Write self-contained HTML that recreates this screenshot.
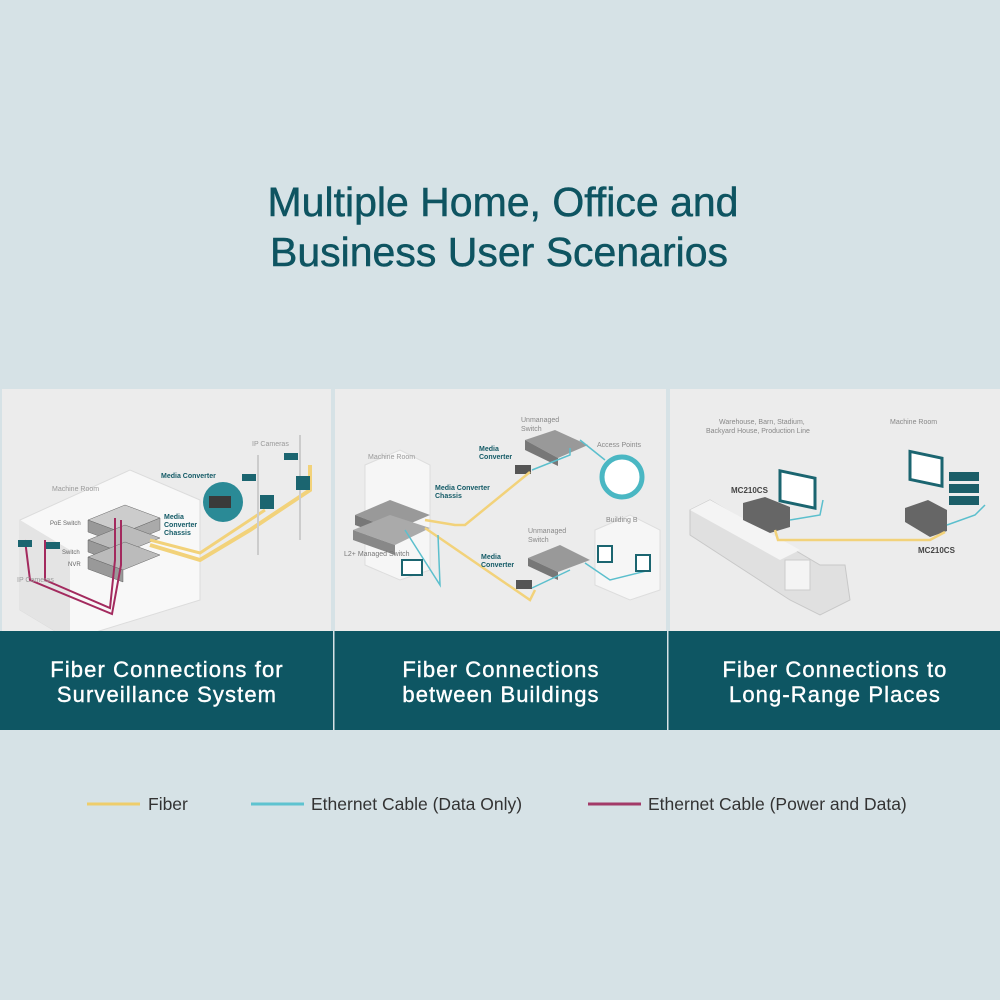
<!DOCTYPE html>
<html><head><meta charset="utf-8"><style>
html,body{margin:0;padding:0;background:#d6e2e6;}
svg{display:block}
</style></head><body>
<svg width="1000" height="1000" viewBox="0 0 1000 1000" xmlns="http://www.w3.org/2000/svg" font-family="Liberation Sans, sans-serif">
<rect width="1000" height="1000" fill="#d6e2e6"/>
<text x="503" y="216" text-anchor="middle" font-size="41" fill="#0e5461" stroke="#0e5461" stroke-width="0.5">Multiple Home, Office and</text>
<text x="499" y="266" text-anchor="middle" font-size="41" fill="#0e5461" stroke="#0e5461" stroke-width="0.5">Business User Scenarios</text>

<!-- panels -->
<rect x="2" y="389" width="329" height="242" fill="#ececec"/>
<rect x="335" y="389" width="331" height="242" fill="#ececec"/>
<rect x="670" y="389" width="330" height="242" fill="#ececec"/>

<!-- Panel 1 -->
<g>
<polygon points="20,520 130,470 200,500 200,600 70,640 20,610" fill="#f8f8f8" stroke="#dcdcdc"/>
<polygon points="20,520 20,610 70,640 70,550" fill="#e4e4e4"/>
<g fill="#888" stroke="#666" stroke-width="0.5">
<polygon points="88,520 125,505 160,518 123,533" fill="#ccc"/>
<polygon points="88,520 123,533 123,545 88,532" fill="#999"/>
<polygon points="123,533 160,518 160,530 123,545" fill="#aaa"/>
<polygon points="88,540 125,525 160,538 123,553" fill="#bbb"/>
<polygon points="88,540 123,553 123,565 88,552" fill="#999"/>
<polygon points="88,557 125,542 160,555 123,570" fill="#bbb"/>
<polygon points="88,557 123,570 123,582 88,569" fill="#999"/>
</g>
<polyline points="115,518 115,560 110,608 45,580 45,540" fill="none" stroke="#a32a5e" stroke-width="2"/>
<polyline points="121,520 121,565 112,614 30,580 25,540" fill="none" stroke="#a32a5e" stroke-width="2"/>
<polyline points="150,545 200,560 250,530 310,490 310,465" fill="none" stroke="#f2d27a" stroke-width="4"/>
<polyline points="150,540 200,553 265,510" fill="none" stroke="#f2d27a" stroke-width="3"/>
<line x1="258" y1="455" x2="258" y2="555" stroke="#ccc" stroke-width="2"/>
<line x1="300" y1="435" x2="300" y2="540" stroke="#ccc" stroke-width="2"/>
<rect x="260" y="495" width="14" height="14" fill="#1b6570"/>
<rect x="296" y="476" width="14" height="14" fill="#1b6570"/>
<rect x="242" y="474" width="14" height="7" fill="#1b6570"/>
<rect x="284" y="453" width="14" height="7" fill="#1b6570"/>
<rect x="18" y="540" width="14" height="7" fill="#1b6570"/>
<rect x="46" y="542" width="14" height="7" fill="#1b6570"/>
<circle cx="223" cy="502" r="20" fill="#2a8a96"/>
<rect x="209" y="496" width="22" height="12" fill="#3a3a3a"/>
<text x="52" y="491" font-size="7" fill="#999">Machine Room</text>
<text x="50" y="525" font-size="6" fill="#666">PoE Switch</text>
<text x="62" y="554" font-size="6" fill="#666">Switch</text>
<text x="68" y="566" font-size="6" fill="#666">NVR</text>
<text x="17" y="582" font-size="7" fill="#999">IP Cameras</text>
<text x="252" y="446" font-size="7" fill="#999">IP Cameras</text>
<text x="161" y="478" font-size="7" font-weight="bold" fill="#135a66">Media Converter</text>
<text x="164" y="519" font-size="7" font-weight="bold" fill="#135a66">Media</text>
<text x="164" y="527" font-size="7" font-weight="bold" fill="#135a66">Converter</text>
<text x="164" y="535" font-size="7" font-weight="bold" fill="#135a66">Chassis</text>
</g>

<!-- Panel 2 -->
<g>
<polygon points="365,465 400,450 430,465 430,570 400,580 365,565" fill="#f6f6f6" stroke="#ddd"/>
<polygon points="595,530 630,515 660,530 660,590 630,600 595,585" fill="#f6f6f6" stroke="#ddd"/>
<polygon points="355,515 390,500 430,515 395,530" fill="#999"/>
<polygon points="355,515 395,530 395,540 355,525" fill="#777"/>
<polygon points="353,530 390,515 430,528 395,545" fill="#aaa"/>
<polygon points="353,530 395,545 395,555 353,540" fill="#888"/>
<polygon points="525,440 555,430 588,445 558,458" fill="#999"/>
<polygon points="525,440 558,458 558,466 525,450" fill="#777"/>
<polygon points="528,558 560,545 590,560 558,572" fill="#999"/>
<polygon points="528,558 558,572 558,580 528,566" fill="#777"/>
<rect x="515" y="465" width="16" height="9" fill="#555"/>
<rect x="516" y="580" width="16" height="9" fill="#555"/>
<polyline points="425,520 455,525 465,525 530,472" fill="none" stroke="#f2d27a" stroke-width="2.5"/>
<polyline points="425,528 530,600 535,590" fill="none" stroke="#f2d27a" stroke-width="2.5"/>
<polyline points="532,470 570,455 570,448" fill="none" stroke="#5bbfcd" stroke-width="1.5"/>
<polyline points="580,440 605,460" fill="none" stroke="#5bbfcd" stroke-width="1.5"/>
<polyline points="532,588 570,570" fill="none" stroke="#5bbfcd" stroke-width="1.5"/>
<polyline points="585,563 610,580 650,570" fill="none" stroke="#5bbfcd" stroke-width="1.5"/>
<polyline points="405,530 440,585 438,535" fill="none" stroke="#5bbfcd" stroke-width="1.5"/>
<circle cx="622" cy="477" r="20" fill="#fff" stroke="#4ab7c3" stroke-width="5"/>
<rect x="402" y="560" width="20" height="15" fill="#fff" stroke="#1b6570" stroke-width="2"/>
<rect x="598" y="546" width="14" height="16" fill="#fff" stroke="#1b6570" stroke-width="2"/>
<rect x="636" y="555" width="14" height="16" fill="#fff" stroke="#1b6570" stroke-width="2"/>
<text x="368" y="459" font-size="7" fill="#999">Machine Room</text>
<text x="344" y="556" font-size="7" fill="#777">L2+ Managed Switch</text>
<text x="521" y="422" font-size="7" fill="#888">Unmanaged</text>
<text x="521" y="431" font-size="7" fill="#888">Switch</text>
<text x="597" y="447" font-size="7" fill="#888">Access Points</text>
<text x="606" y="522" font-size="7" fill="#888">Building B</text>
<text x="528" y="533" font-size="7" fill="#888">Unmanaged</text>
<text x="528" y="542" font-size="7" fill="#888">Switch</text>
<text x="479" y="451" font-size="7" font-weight="bold" fill="#135a66">Media</text>
<text x="479" y="459" font-size="7" font-weight="bold" fill="#135a66">Converter</text>
<text x="435" y="490" font-size="7" font-weight="bold" fill="#135a66">Media Converter</text>
<text x="435" y="498" font-size="7" font-weight="bold" fill="#135a66">Chassis</text>
<text x="481" y="559" font-size="7" font-weight="bold" fill="#135a66">Media</text>
<text x="481" y="567" font-size="7" font-weight="bold" fill="#135a66">Converter</text>
</g>

<!-- Panel 3 -->
<g>
<polygon points="690,510 710,500 820,565 845,565 850,600 820,615 790,600 690,535" fill="#e0e0e0" stroke="#c8c8c8"/>
<polygon points="690,510 710,500 800,550 780,560" fill="#f4f4f4"/>
<rect x="785" y="560" width="25" height="30" fill="#f4f4f4" stroke="#ccc"/>
<rect x="780" y="470" width="35" height="30" fill="#fff" stroke="#1b6570" stroke-width="3" transform="skewY(12) translate(0,-165)"/>
<rect x="910" y="450" width="32" height="28" fill="#fff" stroke="#1b6570" stroke-width="3" transform="skewY(12) translate(0,-192)"/>
<rect x="949" y="472" width="30" height="9" fill="#1b5e68"/>
<rect x="949" y="484" width="30" height="9" fill="#1b5e68"/>
<rect x="949" y="496" width="30" height="9" fill="#1b5e68"/>
<polygon points="743,503 765,497 790,507 790,527 770,533 743,520" fill="#666"/>
<polygon points="905,508 928,500 947,510 947,531 930,537 905,522" fill="#666"/>
<polyline points="775,530 778,540 930,540 945,532" fill="none" stroke="#f2d27a" stroke-width="2.5"/>
<polyline points="790,520 820,515 823,500" fill="none" stroke="#5bbfcd" stroke-width="1.5"/>
<polyline points="947,525 975,515 985,505" fill="none" stroke="#5bbfcd" stroke-width="1.5"/>
<text x="719" y="424" font-size="7" fill="#888">Warehouse, Barn, Stadium,</text>
<text x="706" y="433" font-size="7" fill="#888">Backyard House, Production Line</text>
<text x="890" y="424" font-size="7" fill="#888">Machine Room</text>
<text x="731" y="493" font-size="8" font-weight="bold" fill="#444">MC210CS</text>
<text x="918" y="553" font-size="8" font-weight="bold" fill="#444">MC210CS</text>
</g>

<!-- teal bar -->
<rect x="0" y="631" width="1000" height="99" fill="#0e5663"/>
<rect x="333" y="631" width="1.5" height="99" fill="#d6e2e6"/>
<rect x="667" y="631" width="1.5" height="99" fill="#d6e2e6"/>
<g font-size="22" fill="#fff" text-anchor="middle" letter-spacing="1.1" stroke="#fff" stroke-width="0.4">
<text x="167" y="677">Fiber Connections for</text>
<text x="167" y="702">Surveillance System</text>
<text x="501" y="677">Fiber Connections</text>
<text x="501" y="702">between Buildings</text>
<text x="835" y="677">Fiber Connections to</text>
<text x="835" y="702">Long-Range Places</text>
</g>

<!-- legend -->
<line x1="87" y1="804" x2="140" y2="804" stroke="#eecd6b" stroke-width="3"/>
<text x="148" y="810" font-size="17.5" fill="#333">Fiber</text>
<line x1="251" y1="804" x2="304" y2="804" stroke="#5ec3d0" stroke-width="3"/>
<text x="311" y="810" font-size="17.5" fill="#333">Ethernet Cable (Data Only)</text>
<line x1="588" y1="804" x2="641" y2="804" stroke="#a33a68" stroke-width="3"/>
<text x="648" y="810" font-size="17.5" fill="#333">Ethernet Cable (Power and Data)</text>
</svg>
</body></html>
